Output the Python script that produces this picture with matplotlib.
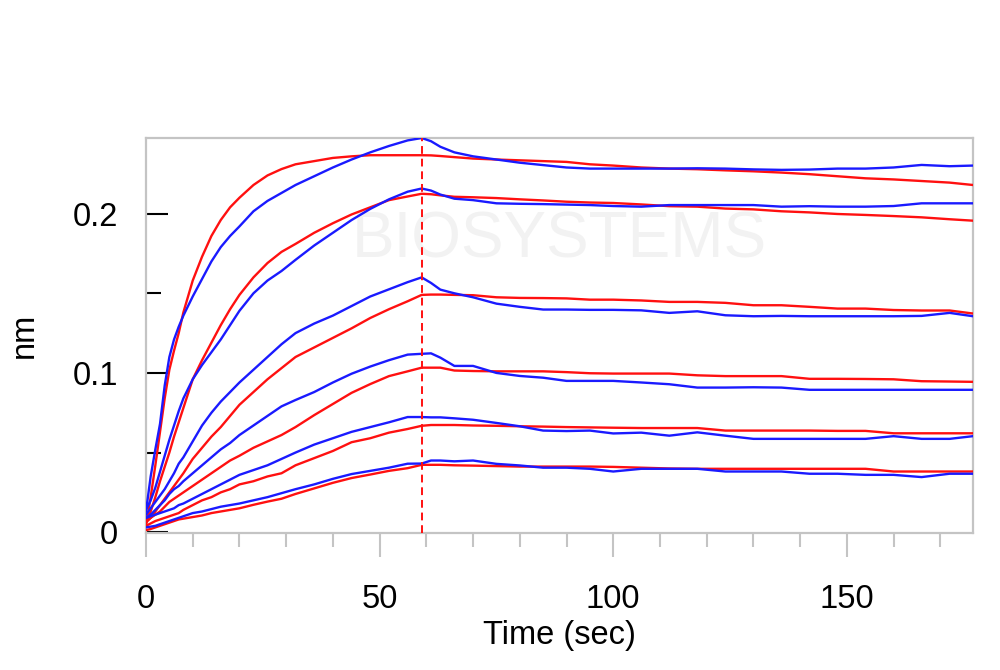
import matplotlib
matplotlib.use("Agg")
import matplotlib.pyplot as plt
from matplotlib.ticker import MultipleLocator, FixedLocator

# ---- data (time in seconds, response in nm) ----
time = [0, 1, 2, 3, 4, 5, 6, 7, 8, 10, 12, 14, 16, 18, 20, 23, 26, 29, 32, 36, 40, 44, 48, 52, 56, 59,
        61, 63, 66, 70, 75, 80, 85, 90, 95, 100, 106, 112, 118, 124, 130, 136, 142, 148, 154, 160, 166, 172, 177]

# measured (blue)
b1 = [0.013, 0.035, 0.052, 0.068, 0.092, 0.110, 0.121, 0.129, 0.136, 0.148, 0.159, 0.170, 0.179, 0.186, 0.192,
      0.2015, 0.208, 0.213, 0.218, 0.2235, 0.229, 0.234, 0.2385, 0.2425, 0.246, 0.2475,
      0.2455, 0.242, 0.2385, 0.236, 0.234, 0.232, 0.2305, 0.229, 0.2283, 0.2283, 0.2283, 0.2283, 0.2285, 0.2283,
      0.2278, 0.2275, 0.2277, 0.2283, 0.2283, 0.2290, 0.2306, 0.2298, 0.2302]
b2 = [0.014, 0.020, 0.028, 0.038, 0.048, 0.058, 0.067, 0.076, 0.084, 0.096, 0.105, 0.113, 0.121, 0.130, 0.139,
      0.150, 0.158, 0.164, 0.171, 0.180, 0.188, 0.196, 0.203, 0.209, 0.2138, 0.2158,
      0.2145, 0.212, 0.2094, 0.2085, 0.2065, 0.2062, 0.206, 0.2057, 0.2054, 0.2048, 0.2044, 0.2054, 0.2054, 0.2054,
      0.2054, 0.2044, 0.2047, 0.2044, 0.2044, 0.2048, 0.2065, 0.2065, 0.2065]
b3 = [0.011, 0.015, 0.019, 0.023, 0.027, 0.032, 0.037, 0.043, 0.047, 0.057, 0.067, 0.075, 0.082, 0.088, 0.094,
      0.102, 0.110, 0.118, 0.125, 0.131, 0.136, 0.142, 0.148, 0.1525, 0.157, 0.160,
      0.1565, 0.1523, 0.150, 0.1475, 0.1435, 0.1415, 0.1398, 0.1398, 0.1396, 0.1396, 0.1393, 0.1377, 0.1387, 0.1362,
      0.1356, 0.1358, 0.1356, 0.1356, 0.1356, 0.1356, 0.1358, 0.1377, 0.1356]
b4 = [0.009, 0.011, 0.014, 0.017, 0.020, 0.024, 0.027, 0.029, 0.032, 0.037, 0.042, 0.047, 0.052, 0.056, 0.061,
      0.067, 0.073, 0.079, 0.083, 0.088, 0.094, 0.0995, 0.104, 0.108, 0.1115, 0.112,
      0.1123, 0.1096, 0.1044, 0.1044, 0.100, 0.0981, 0.097, 0.095, 0.095, 0.095, 0.094, 0.0929, 0.0908, 0.0908,
      0.091, 0.0908, 0.0894, 0.0894, 0.0894, 0.0894, 0.0894, 0.0894, 0.0894]
b5 = [0.009, 0.010, 0.011, 0.012, 0.013, 0.014, 0.015, 0.017, 0.018, 0.021, 0.024, 0.027, 0.030, 0.033, 0.036,
      0.039, 0.042, 0.046, 0.050, 0.055, 0.059, 0.063, 0.066, 0.069, 0.0723, 0.0723,
      0.0721, 0.0721, 0.0715, 0.0706, 0.0686, 0.0665, 0.0638, 0.0635, 0.0638, 0.062, 0.0625, 0.0606, 0.0627, 0.0606,
      0.0586, 0.0586, 0.0586, 0.0586, 0.0586, 0.0603, 0.0586, 0.0586, 0.0603]
b6 = [0.003, 0.0035, 0.004, 0.005, 0.006, 0.007, 0.008, 0.009, 0.010, 0.012, 0.013, 0.0145, 0.016, 0.017, 0.018,
      0.020, 0.022, 0.0245, 0.027, 0.030, 0.0335, 0.0365, 0.0385, 0.0405, 0.043, 0.0431,
      0.045, 0.045, 0.0445, 0.045, 0.0429, 0.0419, 0.0405, 0.0405, 0.0398, 0.0381, 0.0398, 0.0398, 0.0398, 0.0381,
      0.0381, 0.0381, 0.0367, 0.0367, 0.036, 0.036, 0.0346, 0.0367, 0.0367]

# fitted (red)
r1 = [0.004, 0.022, 0.042, 0.063, 0.084, 0.102, 0.114, 0.125, 0.138, 0.158, 0.173, 0.186, 0.196, 0.204, 0.210,
      0.218, 0.224, 0.228, 0.231, 0.233, 0.235, 0.236, 0.2367, 0.2367, 0.2367, 0.2367,
      0.2366, 0.2362, 0.2355, 0.2346, 0.234, 0.2335, 0.233, 0.2325, 0.231, 0.2302, 0.229, 0.2283, 0.2279, 0.2272,
      0.2266, 0.2258, 0.2248, 0.2235, 0.2222, 0.2215, 0.2205, 0.2195, 0.218]
r2 = [0.006, 0.013, 0.022, 0.032, 0.041, 0.050, 0.060, 0.069, 0.078, 0.096, 0.108, 0.119, 0.130, 0.140, 0.149,
      0.160, 0.169, 0.176, 0.181, 0.188, 0.194, 0.1995, 0.204, 0.2085, 0.2108, 0.2125,
      0.2122, 0.2115, 0.2106, 0.2103, 0.2098, 0.209, 0.2083, 0.2075, 0.207, 0.2067, 0.2058, 0.2047, 0.2044, 0.2032,
      0.2027, 0.2015, 0.2008, 0.1998, 0.1992, 0.1985, 0.1977, 0.1965, 0.1956]
r3 = [0.006, 0.009, 0.013, 0.017, 0.021, 0.025, 0.029, 0.033, 0.037, 0.046, 0.053, 0.060, 0.066, 0.073, 0.080,
      0.088, 0.096, 0.103, 0.110, 0.116, 0.122, 0.128, 0.1345, 0.140, 0.145, 0.149,
      0.1492, 0.1492, 0.149, 0.1488, 0.1475, 0.1471, 0.147, 0.1468, 0.146, 0.146, 0.1455, 0.1446, 0.1446, 0.1440,
      0.1425, 0.1425, 0.1415, 0.1404, 0.1404, 0.1395, 0.1392, 0.1392, 0.1373]
r4 = [0.007, 0.009, 0.011, 0.013, 0.016, 0.019, 0.021, 0.023, 0.025, 0.029, 0.033, 0.037, 0.041, 0.045, 0.048,
      0.053, 0.057, 0.061, 0.066, 0.0735, 0.0805, 0.0875, 0.093, 0.098, 0.101, 0.1033,
      0.1033, 0.1033, 0.1015, 0.1012, 0.101, 0.101, 0.101, 0.1005, 0.0998, 0.0996, 0.0996, 0.0996, 0.0985, 0.098,
      0.098, 0.098, 0.0963, 0.0963, 0.0962, 0.096, 0.0948, 0.0946, 0.0944]
r5 = [0.004, 0.0055, 0.007, 0.008, 0.009, 0.010, 0.011, 0.012, 0.014, 0.017, 0.020, 0.022, 0.025, 0.027, 0.030,
      0.032, 0.035, 0.037, 0.042, 0.0465, 0.051, 0.0565, 0.059, 0.0625, 0.0648, 0.0668,
      0.0673, 0.0673, 0.0673, 0.067, 0.0668, 0.0665, 0.0663, 0.066, 0.0658, 0.0656, 0.0654, 0.0654, 0.0654, 0.0638,
      0.0638, 0.0638, 0.0638, 0.0636, 0.0636, 0.0621, 0.0621, 0.0621, 0.0621]
r6 = [0.0013, 0.002, 0.003, 0.004, 0.005, 0.006, 0.007, 0.008, 0.0085, 0.0095, 0.0105, 0.012, 0.013, 0.014, 0.015,
      0.0172, 0.0192, 0.021, 0.024, 0.0275, 0.031, 0.034, 0.0362, 0.0385, 0.0402, 0.0423,
      0.0423, 0.0423, 0.042, 0.0418, 0.0415, 0.0412, 0.0412, 0.0412, 0.0412, 0.0410, 0.0405, 0.040, 0.0398, 0.0398,
      0.0398, 0.0398, 0.0398, 0.0398, 0.0398, 0.0381, 0.0381, 0.0381, 0.0381]

measured = [b1, b2, b3, b4, b5, b6]
fitted = [r1, r2, r3, r4, r5, r6]
switch_time = 59

x_major = [0, 50, 100, 150]
y_major = [0, 0.1, 0.2]

# ---- figure ----
plt.rcParams['font.family'] = ['Liberation Sans', 'DejaVu Sans']
fig = plt.figure(figsize=(10, 6.7), dpi=100)
ax = fig.add_axes([0.146, 0.2045, 0.827, 0.5895])

ax.text(0.5, 0.74, "BIOSYSTEMS", transform=ax.transAxes, ha='center', va='center',
        fontsize=46, color='#f2f2f2', zorder=0)

for m, f in zip(measured, fitted):
    ax.plot(time, f, color='#ff1010', lw=1.7, zorder=3)
    ax.plot(time, m, color='#1a1aff', lw=1.7, zorder=4)

ax.axvline(switch_time, color='#ff1010', lw=1.4, ls=(0, (4, 2.5)), zorder=5)

ax.set_xlim(0, 177)
ax.set_ylim(-0.0005, 0.2475)

for s in ax.spines.values():
    s.set_color('#c4c4c4')
    s.set_linewidth(1.6)

ax.xaxis.set_major_locator(FixedLocator(x_major))
ax.xaxis.set_minor_locator(MultipleLocator(10))
ax.tick_params(axis='x', which='major', direction='out', length=17, width=1.5, color='#c4c4c4',
               labelsize=23.5, pad=20)
ax.tick_params(axis='x', which='minor', direction='out', length=10, width=1.5, color='#c4c4c4')

ax.yaxis.set_major_locator(FixedLocator(y_major))
ax.yaxis.set_minor_locator(MultipleLocator(0.05))
ax.tick_params(axis='y', which='major', direction='in', length=16, width=1.5, color='black',
               labelsize=23.5, pad=20)
ax.tick_params(axis='y', which='minor', direction='in', length=11, width=1.5, color='black')
ax.set_yticklabels(['0', '0.1', '0.2'])

ax.set_xlabel("Time (sec)", fontsize=23.5, labelpad=3)
ax.set_ylabel("nm", fontsize=23.5, labelpad=24)

fig.savefig("out.png", dpi=100, facecolor='white')
